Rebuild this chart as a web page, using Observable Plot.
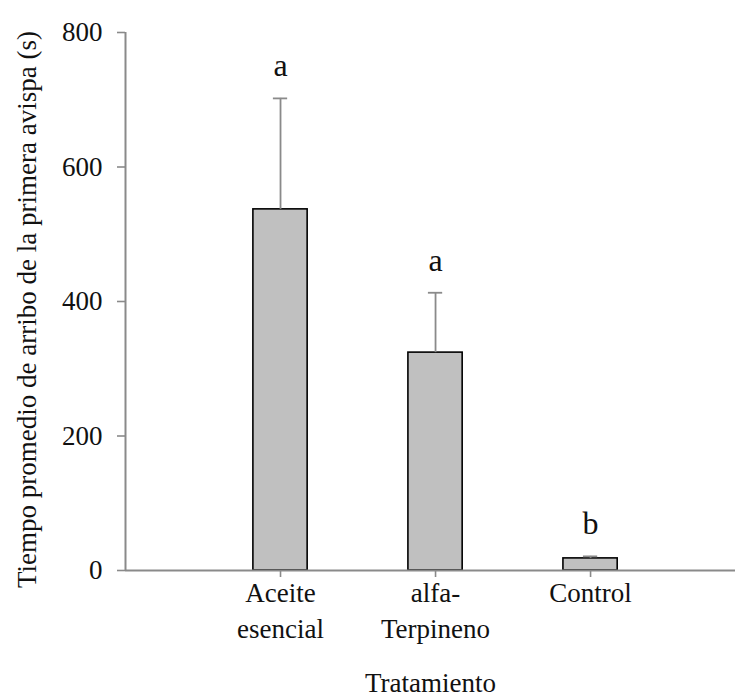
<!DOCTYPE html>
<html>
<head>
<meta charset="utf-8">
<script src="https://cdn.jsdelivr.net/npm/d3@7"></script>
<script src="https://cdn.jsdelivr.net/npm/@observablehq/plot@0.6"></script>
<style>
  html, body { margin: 0; padding: 0; background: #fff; }
  #chart svg, #chart svg text { font-family: "Liberation Serif", "DejaVu Serif", serif !important; }
</style>
</head>
<body>
<div id="chart"></div>
<script>
// Tratamientos (etiquetas en dos líneas), medias y error estándar en segundos
const tratamientos = ["Aceite\nesencial", "alfa-\nTerpineno", "Control"];
const medias = [537, 324, 18];
const errores = [165, 89, 3];
const letras = ["a", "a", "b"];
const yTicks = [0, 200, 400, 600, 800];

const datos = tratamientos.map((t, i) => ({
  pos: i + 1,
  tratamiento: t,
  media: medias[i],
  tope: medias[i] + errores[i],
  letra: letras[i]
}));

const medioAncho = 0.175;   // media anchura de barra (unidades del eje x)
const medioCap = 0.046;     // media anchura del remate de la barra de error
const gris = "#8a8a8a";
const fuente = "Liberation Serif, DejaVu Serif, serif";
const tam = 27;             // tamaño de letra de ejes y rótulos

const chart = Plot.plot({
  width: 736,
  height: 697,
  marginLeft: 125,
  marginRight: 1,
  marginTop: 32,
  marginBottom: 127,
  style: { fontFamily: fuente, fontSize: `${tam}px`, color: "#111", background: "#fff" },
  x: { domain: [0, 3.935] },
  y: { domain: [0, 800] },
  marks: [
    Plot.rectY(datos, {
      x1: d => d.pos - medioAncho,
      x2: d => d.pos + medioAncho,
      y: "media",
      fill: "#c0c0c0",
      stroke: "#000",
      strokeWidth: 1.6
    }),
    Plot.ruleX(datos, { x: "pos", y1: "media", y2: "tope", stroke: gris, strokeWidth: 1.8 }),
    Plot.ruleY(datos, {
      y: "tope",
      x1: d => d.pos - medioCap,
      x2: d => d.pos + medioCap,
      stroke: gris,
      strokeWidth: 1.8
    }),
    Plot.text(datos, {
      x: "pos",
      y: "tope",
      text: "letra",
      lineAnchor: "bottom",
      dy: -22,
      fontSize: 32,
      fontFamily: fuente,
      fill: "#111"
    }),
    Plot.ruleY([0], { stroke: gris, strokeWidth: 2 }),
    Plot.ruleX([0], { stroke: gris, strokeWidth: 2 }),
    Plot.axisY({
      ticks: yTicks,
      tickSize: 8,
      tickPadding: 15,
      stroke: gris,
      strokeWidth: 1.6,
      fontSize: tam,
      fontFamily: fuente,
      label: null
    }),
    Plot.axisX({
      ticks: datos.map(d => d.pos),
      tickFormat: p => tratamientos[p - 1],
      tickSize: 7,
      tickPadding: 0,
      stroke: gris,
      strokeWidth: 1.6,
      fontSize: tam,
      fontFamily: fuente,
      lineHeight: 1.3,
      label: null
    }),
    Plot.text(["Tiempo promedio de arribo de la primera avispa (s)"], {
      frameAnchor: "left",
      textAnchor: "middle",
      rotate: -90,
      dx: -98,
      dy: 8,
      fontSize: tam,
      fontFamily: fuente,
      fill: "#111"
    }),
    Plot.text(["Tratamiento"], {
      frameAnchor: "bottom",
      textAnchor: "middle",
      dy: 121,
      fontSize: tam,
      fontFamily: fuente,
      fill: "#111"
    })
  ]
});

document.getElementById("chart").appendChild(chart);
</script>
</body>
</html>
